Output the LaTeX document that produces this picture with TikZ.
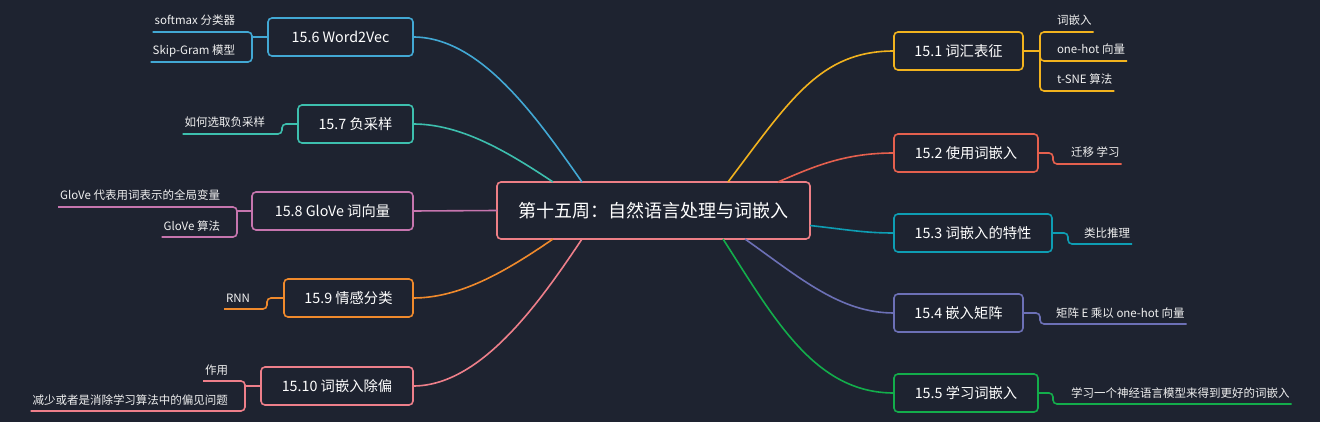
\documentclass[tikz,border=0pt]{standalone}
\usepackage{fontspec}
\setmainfont{Noto Sans CJK SC}
\definecolor{bgc}{HTML}{1E2330}
\definecolor{cc}{HTML}{EE7F86}
\definecolor{ca}{HTML}{F2B31E}
\definecolor{cb}{HTML}{E5604E}
\definecolor{cd}{HTML}{0E9DB3}
\definecolor{ce}{HTML}{6C70B6}
\definecolor{cf}{HTML}{13AD4B}
\definecolor{cg}{HTML}{42A8D4}
\definecolor{ch}{HTML}{3DBFAE}
\definecolor{ci}{HTML}{C675AE}
\definecolor{cj}{HTML}{F08A2C}
\definecolor{ck}{HTML}{EE7F8A}
\definecolor{leaftext}{HTML}{F0F0F0}
\begin{document}
\begin{tikzpicture}[x=1pt,y=-1pt,
  box/.style={draw=#1, line width=1.6pt, rounded corners=4pt, fill=bgc, text=white,
    font=\fontsize{14.3}{16}\selectfont, minimum height=38pt, inner sep=0pt, outer sep=0pt},
  leafR/.style={anchor=base west, inner xsep=2pt, inner ysep=0pt, outer sep=0pt, text=leaftext,
    font=\fontsize{11.5}{13}\selectfont},
  leafL/.style={anchor=base east, inner xsep=2pt, inner ysep=0pt, outer sep=0pt, text=leaftext,
    font=\fontsize{11.5}{13}\selectfont},
  link/.style={draw=#1, line width=1.6pt},
  branch/.style={draw=#1, line width=1.6pt, rounded corners=4pt}]
\fill[bgc] (0,0) rectangle (1320,422);
\useasboundingbox (0,0) rectangle (1320,422);

% central
\node[box=cc, minimum width=313pt, minimum height=57pt, font=\fontsize{18}{20}\selectfont] (c) at (653.5,210.5) {第十五周：自然语言处理与词嵌入};

% right boxes
\node[box=ca, minimum width=129pt] (b1) at (958.5,51) {15.1 词汇表征};
\node[box=cb, minimum width=144pt] (b2) at (966,153) {15.2 使用词嵌入};
\node[box=cd, minimum width=158pt] (b3) at (973,233) {15.3 词嵌入的特性};
\node[box=ce, minimum width=129pt] (b4) at (958.5,313) {15.4 嵌入矩阵};
\node[box=cf, minimum width=144pt] (b5) at (966,393) {15.5 学习词嵌入};
% left boxes
\node[box=cg, minimum width=145pt] (b6) at (340.5,37) {15.6 Word2Vec};
\node[box=ch, minimum width=115pt] (b7) at (355.5,124) {15.7 负采样};
\node[box=ci, minimum width=161pt] (b8) at (332.5,211) {15.8 GloVe 词向量};
\node[box=cj, minimum width=129pt] (b9) at (348.5,298) {15.9 情感分类};
\node[box=ck, minimum width=152pt] (b10) at (337,386) {15.10 词嵌入除偏};

% central connectors
\draw[link=ca] ([xshift=231pt]c.north west) .. controls (790,100) and (820,51) .. (b1.west);
\draw[link=cb] ([xshift=281pt]c.north west) .. controls (815,166) and (845,153) .. (b2.west);
\draw[link=cd] ([yshift=-15pt]c.east) .. controls (850,230) and (865,233) .. (b3.west);
\draw[link=ce] ([xshift=248pt]c.south west) .. controls (800,278) and (840,313) .. (b4.west);
\draw[link=cf] ([xshift=226pt]c.south west) .. controls (775,320) and (815,393) .. (b5.west);
\draw[link=cg] ([xshift=85pt]c.north west) .. controls (535,115) and (480,37) .. (b6.east);
\draw[link=ch] ([xshift=56pt]c.north west) .. controls (505,150) and (460,124) .. (b7.east);
\draw[link=ci] (c.west) -- (b8.east);
\draw[link=cj] ([xshift=56pt]c.south west) .. controls (505,272) and (460,298) .. (b9.east);
\draw[link=ck] ([xshift=85pt]c.south west) .. controls (538,305) and (480,386) .. (b10.east);

% 15.1 leaves
\node[leafR] (l11) at (1055,25) {词嵌入};
\node[leafR] (l12) at (1055,54) {one-hot 向量};
\node[leafR] (l13) at (1055,84) {t-SNE 算法};
\coordinate (j1) at (1040,51);
\coordinate (u11) at (1040,32);
\coordinate (u12) at (1040,61);
\coordinate (u13) at (1040,91);
\draw[link=ca] (b1.east) -- (j1);
\draw[branch=ca] (l11.east |- u11) -- (u11) -- (u13) -- (l13.east |- u13);
\draw[branch=ca] (j1) -- (u12) -- (l12.east |- u12);

% 15.2 leaf
\node[leafR] (l2) at (1069,157) {迁移 学习};
\coordinate (j2) at (1053,153);
\coordinate (u2) at (1053,164);
\draw[branch=cb] (b2.east) -- (j2) -- (u2) -- (l2.east |- u2);

% 15.3 leaf
\node[leafR] (l3) at (1082,237) {类比推理};
\coordinate (j3) at (1068,233);
\coordinate (u3) at (1068,244);
\draw[branch=cd] (b3.east) -- (j3) -- (u3) -- (l3.east |- u3);

% 15.4 leaf
\node[leafR] (l4) at (1054,317) {矩阵 E 乘以 one-hot 向量};
\coordinate (j4) at (1040,313);
\coordinate (u4) at (1040,324);
\draw[branch=ce] (b4.east) -- (j4) -- (u4) -- (l4.east |- u4);

% 15.5 leaf
\node[leafR] (l5) at (1069,397) {学习一个神经语言模型来得到更好的词嵌入};
\coordinate (j5) at (1053,393);
\coordinate (u5) at (1053,404);
\draw[branch=cf] (b5.east) -- (j5) -- (u5) -- (l5.east |- u5);

% 15.6 leaves
\node[leafL] (l61) at (237,25) {softmax 分类器};
\node[leafL] (l62) at (237,55) {Skip-Gram 模型};
\coordinate (j6) at (252,37);
\coordinate (u61) at (252,32);
\coordinate (u62) at (252,62);
\draw[link=cg] (b6.west) -- (j6);
\draw[branch=cg] (l61.west |- u61) -- (u61) -- (u62) -- (l62.west |- u62);

% 15.7 leaf
\node[leafL] (l7) at (267,127) {如何选取负采样};
\coordinate (j7) at (282,124);
\coordinate (u7) at (282,134);
\draw[branch=ch] (b7.west) -- (j7) -- (u7) -- (l7.west |- u7);

% 15.8 leaves
\node[leafL] (l81) at (222,200) {GloVe 代表用词表示的全局变量};
\node[leafL] (l82) at (222,230) {GloVe 算法};
\coordinate (j8) at (237,211);
\coordinate (u81) at (237,207);
\coordinate (u82) at (237,237);
\draw[link=ci] (b8.west) -- (j8);
\draw[branch=ci] (l81.west |- u81) -- (u81) -- (u82) -- (l82.west |- u82);

% 15.9 leaf
\node[leafL] (l9) at (252,302) {RNN};
\coordinate (j9) at (267,298);
\coordinate (u9) at (267,309);
\draw[branch=cj] (b9.west) -- (j9) -- (u9) -- (l9.west |- u9);

% 15.10 leaves
\node[leafL] (l101) at (230,374) {作用};
\node[leafL] (l102) at (230,404) {减少或者是消除学习算法中的偏见问题};
\coordinate (j10) at (245,386);
\coordinate (u101) at (245,381);
\coordinate (u102) at (245,411);
\draw[link=ck] (b10.west) -- (j10);
\draw[branch=ck] (l101.west |- u101) -- (u101) -- (u102) -- (l102.west |- u102);
\end{tikzpicture}
\end{document}
